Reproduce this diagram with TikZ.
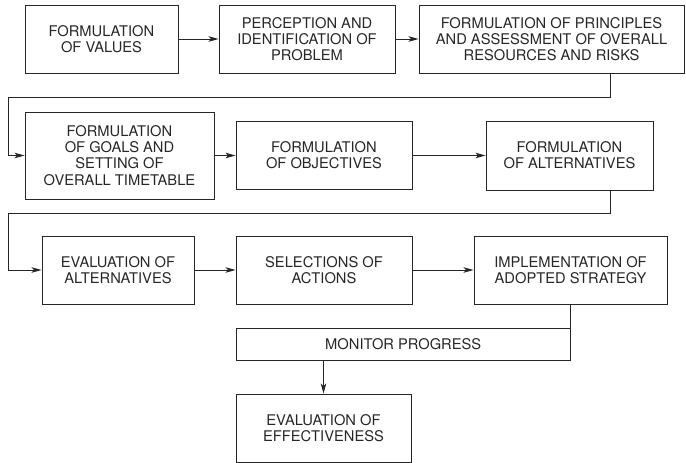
\documentclass[tikz,border=0pt]{standalone}
\usepackage{fontspec}
\setmainfont{TeX Gyre Heros}
\usetikzlibrary{arrows.meta}
\definecolor{ink}{HTML}{262626}
\begin{document}
\begin{tikzpicture}[x=1pt,y=-1pt,
  box/.style={draw=ink,line width=0.9pt,rectangle,inner sep=0pt,align=center,
    text=ink,font=\fontsize{14.7}{16.2}\selectfont},
  conn/.style={draw=ink,line width=0.9pt},
  arr/.style={conn,-{Stealth[length=10pt,width=5.5pt,inset=2.5pt]}}]
\useasboundingbox (0,0) rectangle (686,463);
% row 1
\node[box,minimum width=153pt,minimum height=68pt] (A) at (101.5,39) {FORMULATION\\OF VALUES};
\node[box,minimum width=176pt,minimum height=68pt] (B) at (307,39) {PERCEPTION AND\\IDENTIFICATION OF\\PROBLEM};
\node[box,minimum width=265pt,minimum height=68pt] (C) at (551.5,39) {FORMULATION OF PRINCIPLES\\AND ASSESSMENT OF OVERALL\\RESOURCES AND RISKS};
% row 2
\node[box,minimum width=189pt,minimum height=87pt] (D) at (119.5,155.5) {FORMULATION\\OF GOALS AND\\SETTING OF\\OVERALL TIMETABLE};
\node[box,minimum width=176pt,minimum height=68pt] (E) at (324,155.5) {FORMULATION\\OF OBJECTIVES};
\node[box,minimum width=167pt,minimum height=69pt] (F) at (569.5,155.5) {FORMULATION\\OF ALTERNATIVES};
% row 3
\node[box,minimum width=152pt,minimum height=68pt] (G) at (118,270) {EVALUATION OF\\ALTERNATIVES};
\node[box,minimum width=176pt,minimum height=68pt] (H) at (324,270) {SELECTIONS OF\\ACTIONS};
\node[box,minimum width=193pt,minimum height=68pt] (I) at (570.5,270) {IMPLEMENTATION OF\\ADOPTED STRATEGY};
% monitor
\node[box,minimum width=334.5pt,minimum height=32pt] (M) at (403.25,344) {MONITOR PROGRESS};
\node[box,minimum width=175pt,minimum height=68pt] (J) at (323.5,428) {EVALUATION OF\\EFFECTIVENESS};
% connector helpers
\coordinate (c1) at (610,97);
\coordinate (c2) at (8,97);
\coordinate (f1) at (610,213);
\coordinate (f2) at (8,213);
% arrows
\draw[arr] (A) -- (B);
\draw[arr] (B) -- (C);
\draw[arr] (C.south -| c1) -- (c1) -- (c2) |- (D.west);
\draw[arr] (D.east |- E.west) -- (E.west);
\draw[arr] (E) -- (F);
\draw[arr] (F.south -| f1) -- (f1) -- (f2) |- (G.west);
\draw[arr] (G) -- (H);
\draw[arr] (H) -- (I);
\draw[conn] (I.south) -- (I.south |- M.north);
\draw[arr] (M.south -| J.north) -- (J.north);
\end{tikzpicture}
\end{document}
